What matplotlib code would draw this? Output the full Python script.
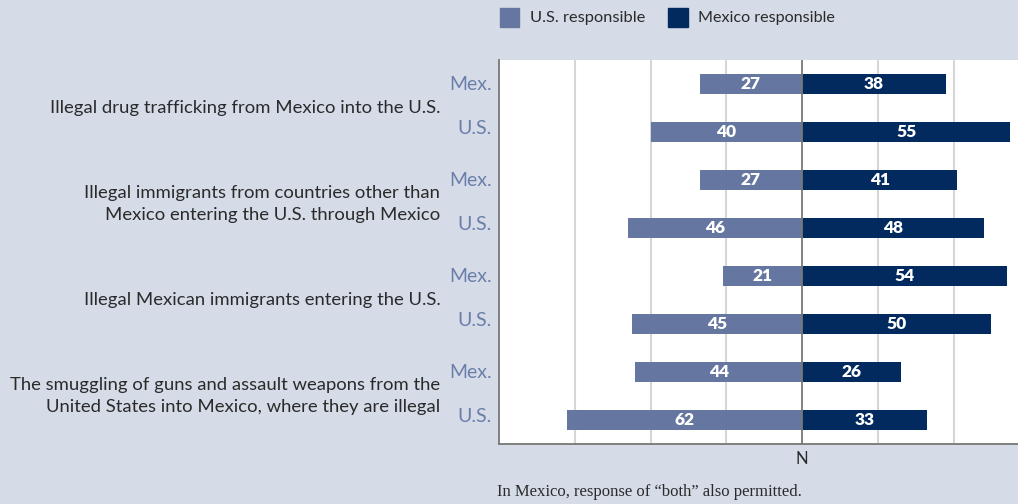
import numpy as np
import matplotlib.pyplot as plt
from matplotlib.patches import Rectangle
from matplotlib.transforms import ScaledTranslation

topics = [
    "Illegal drug trafficking from Mexico into the U.S.",
    "Illegal immigrants from countries other than\nMexico entering the U.S. through Mexico",
    "Illegal Mexican immigrants entering the U.S.",
    "The smuggling of guns and assault weapons from the\nUnited States into Mexico, where they are illegal",
]
groups = ["Mex.", "U.S."]
us_responsible = [27, 40, 27, 46, 21, 45, 44, 62]
mexico_responsible = [38, 55, 41, 48, 54, 50, 26, 33]

bg = "#d5dbe7"
light = "#6577a1"
dark = "#022a5e"
label_col = "#6b7ea9"
text_col = "#2a2a2a"

plt.rcParams['font.family'] = ['Lato', 'DejaVu Sans']

fig = plt.figure(figsize=(10.18, 5.04), dpi=100, facecolor=bg)
ax = fig.add_axes([499 / 1018, 1 - 444 / 504, 1 - 499 / 1018, 384 / 504])
ax.set_facecolor("white")

y = np.arange(len(us_responsible))
h = 0.42
ax.barh(y, [-v for v in us_responsible], height=h, color=light, zorder=3)
ax.barh(y, mexico_responsible, height=h, color=dark, zorder=3)

for yi, u, m in zip(y, us_responsible, mexico_responsible):
    ax.text(-u / 2, yi, str(u), color="white", ha="center", va="center",
            fontsize=12.5, fontweight="heavy", zorder=4)
    ax.text(m / 2, yi, str(m), color="white", ha="center", va="center",
            fontsize=12.5, fontweight="heavy", zorder=4)

ax.set_xlim(-80, 57)
ax.set_ylim(len(y) - 0.5, -0.5)

for gx in [-60, -40, -20, 20, 40]:
    ax.axvline(gx, color="#d6d6d6", lw=1.5, zorder=1)
ax.axvline(0, color="#777777", lw=1.3, zorder=5)

ax.set_yticks(y)
ax.set_yticklabels(groups * len(topics), color=label_col, fontsize=14)
ax.tick_params(axis="y", length=0, pad=5)
for lbl in ax.get_yticklabels():
    dy = 1 / 100 if lbl.get_text() == "Mex." else 5 / 100
    lbl.set_transform(lbl.get_transform() + ScaledTranslation(0, dy, fig.dpi_scale_trans))
ax.set_xticks([0])
ax.set_xticklabels(["N"], fontsize=12, color=text_col)
ax.tick_params(axis="x", length=0, pad=5)

for s in ["top", "right"]:
    ax.spines[s].set_visible(False)
for s in ["left", "bottom"]:
    ax.spines[s].set_color("#777777")
    ax.spines[s].set_linewidth(1.3)

for i, t in enumerate(topics):
    ax.text(-0.113, 2 * i + 0.5, t, transform=ax.get_yaxis_transform(),
            ha="right", va="center", fontsize=13.3, color=text_col,
            linespacing=1.45)

# legend
fig.patches.append(Rectangle((500 / 1018, 1 - 27 / 504), 19 / 1018, 19 / 504,
                             transform=fig.transFigure, color=light))
fig.text(530 / 1018, 1 - 18 / 504, "U.S. responsible", fontsize=11.8,
         color=text_col, va="center")
fig.patches.append(Rectangle((668 / 1018, 1 - 27 / 504), 20 / 1018, 19 / 504,
                             transform=fig.transFigure, color=dark))
fig.text(698 / 1018, 1 - 18 / 504, "Mexico responsible", fontsize=11.6,
         color=text_col, va="center")

fig.text(497 / 1018, 1 - 492 / 504,
         "In Mexico, response of \u201cboth\u201d also permitted.",
         family="Liberation Serif", fontsize=12, color=text_col, va="center")

fig.savefig("out.png", dpi=100, facecolor=bg)
